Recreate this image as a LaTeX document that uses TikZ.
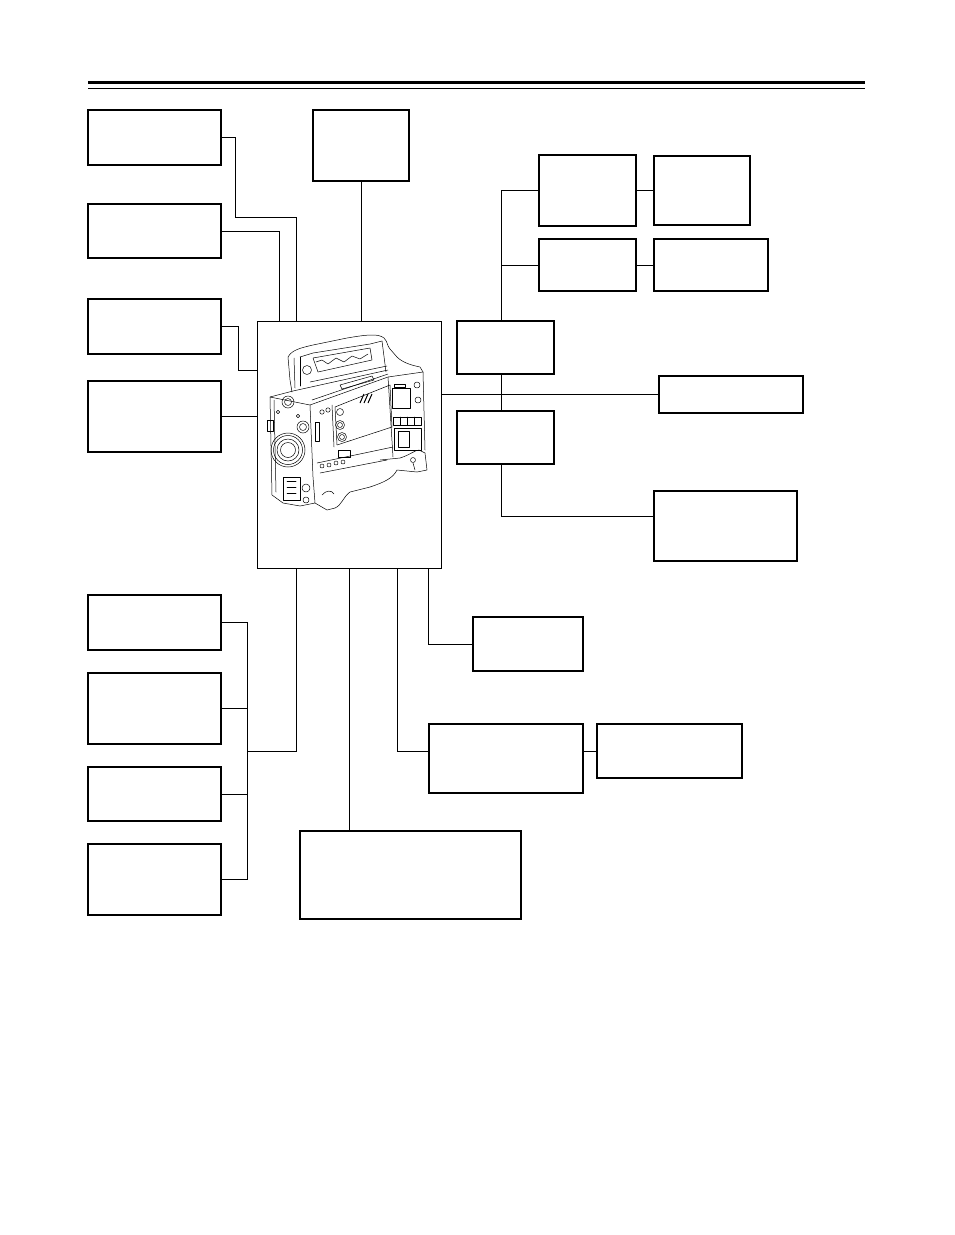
\documentclass[tikz,border=0pt]{standalone}
\begin{document}
\begin{tikzpicture}[x=1pt,y=-1pt,
  box/.style={draw, line width=1.1pt, inner sep=0pt, outer sep=0pt},
  conn/.style={draw, line width=0.8pt},
  cl/.style={draw, line width=0.5pt, line join=round, line cap=round}]
\useasboundingbox (0,0) rectangle (954,1235);
\fill[white] (0,0) rectangle (954,1235);
% header rules
\draw[line width=3pt] (88,82.5) -- (865,82.5);
\draw[line width=1pt] (88,88.5) -- (865,88.5);
% boxes
\node[box, minimum width=133, minimum height=55] (L1) at (154.5,137.5) {};
\node[box, minimum width=133, minimum height=54] (L2) at (154.5,231) {};
\node[box, minimum width=133, minimum height=55] (L3) at (154.5,326.5) {};
\node[box, minimum width=133, minimum height=71] (L4) at (154.5,416.5) {};
\node[box, minimum width=96, minimum height=71] (T) at (361,145.5) {};
\node[box, minimum width=97, minimum height=71] (R1) at (587.5,190.5) {};
\node[box, minimum width=96, minimum height=69] (R1b) at (702,190.5) {};
\node[box, minimum width=97, minimum height=52] (R2) at (587.5,265) {};
\node[box, minimum width=114, minimum height=52] (R2b) at (711,265) {};
\node[box, minimum width=97, minimum height=53] (M1) at (505.5,347.5) {};
\node[box, minimum width=97, minimum height=53] (M2) at (505.5,437.5) {};
\node[box, minimum width=144, minimum height=37] (RR) at (731,394.5) {};
\node[box, minimum width=143, minimum height=70] (RRR) at (725.5,526) {};
\node[box, line width=0.8pt, minimum width=184, minimum height=247] (cam) at (349,444.5) {};
\node[box, minimum width=133, minimum height=55] (L5) at (154.5,622.5) {};
\node[box, minimum width=133, minimum height=71] (L6) at (154.5,708.5) {};
\node[box, minimum width=133, minimum height=54] (L7) at (154.5,794) {};
\node[box, minimum width=133, minimum height=71] (L8) at (154.5,879.5) {};
\node[box, minimum width=110, minimum height=54] (B1) at (528,644) {};
\node[box, minimum width=154, minimum height=69] (B2) at (506,758.5) {};
\node[box, minimum width=145, minimum height=54] (B2b) at (669.5,751) {};
\node[box, minimum width=221, minimum height=88] (B3) at (410.5,875) {};
% connectors, upper left
\coordinate (k1) at (235,217);
\draw[conn] (L1.east) -| (k1) -| ([xshift=39pt]cam.north west);
\draw[conn] (L2.east) -| ([xshift=22pt]cam.north west);
\draw[conn] (T.south) -- (T.south |- cam.north);
\coordinate (k3) at (238,370);
\draw[conn] (L3.east) -| (k3) -- (k3 -| cam.west);
\draw[conn] (L4.east) -- (L4.east -| cam.west);
% right side
\coordinate (sp) at (501,0);
\draw[conn] (R1.west) -| (sp |- M1.north);
\draw[conn] (R2.west) -- (R2.west -| sp);
\draw[conn] (R1.east) -- (R1.east -| R1b.west);
\draw[conn] (R2.east) -- (R2.east -| R2b.west);
\draw[conn] (sp |- M1.south) -- (sp |- M2.north);
\draw[conn] (sp |- M2.south) |- ([yshift=9.5pt]RRR.west);
\draw[conn] (RR.west) -- (RR.west -| cam.east);
% bottom
\coordinate (bus) at (247,0);
\draw[conn] (L5.east) -| (bus |- L8.east) -- (L8.east);
\draw[conn] (L6.east) -- (L6.east -| bus);
\draw[conn] (L7.east) -- (L7.east -| bus);
\coordinate (j1) at (247,751);
\coordinate (c1) at ([xshift=39.5pt]cam.south west);
\draw[conn] (c1) |- (j1);
\coordinate (c2) at ([xshift=92.5pt]cam.south west);
\draw[conn] (c2) -- (c2 |- B3.north);
\coordinate (c3) at ([xshift=140.5pt]cam.south west);
\draw[conn] (c3) |- ([yshift=7.5pt]B2.west);
\draw[conn] ([yshift=7.5pt]B2.east) -- ([yshift=7.5pt]B2.east -| B2b.west);
\coordinate (c4) at ([xshift=171.5pt]cam.south west);
\draw[conn] (c4) |- (B1.west);
% camera sketch
\draw[cl] (288,357) .. controls (292,350) and (300,348) .. (313,345) -- (347,338)
  .. controls (365,335) and (378,333) .. (384,338) .. controls (388,342) and (387,346) .. (390,349)
  -- (397,357) .. controls (402,362) and (410,365) .. (420,367) -- (423,372);
\draw[cl] (300,357) -- (313,353) -- (370,344) -- (382,341);
\draw[cl] (313,358) -- (370,348) -- (372,360) -- (318,372) -- cycle;
\draw[cl] (316,362) -- (322,360) -- (328,364) -- (336,358) -- (344,362) -- (352,356) -- (360,359) -- (368,354);
\draw[cl] (310,382) -- (387,366);
\draw[cl] (288,357) -- (290,380) -- (292,392);
\draw[cl] (300,357) -- (300,386);
\draw[cl] (294,358) -- (295,388);
\draw[cl] (307,370) circle (4.5);
\draw[cl] (382,341) -- (386,372);
% body
\draw[cl] (270,397) -- (310,405) -- (388,377) -- (423,372);
\draw[cl] (270,397) -- (293,391) -- (388,370);
\draw[cl] (312,400) -- (388,374);
\draw[cl] (340,385) -- (372,376) -- (374,380) -- (342,389) -- cycle;
\draw[cl] (270,397) -- (272,495) -- (283,503) -- (300,506) -- (315,503) -- (313,477) -- (310,405);
\draw[cl] (274,400) -- (276,492);
\draw[cl] (288,450) circle (17);
\draw[cl] (288,450) circle (14.5);
\draw[cl] (288,450) circle (11);
\draw[cl] (288,450) circle (7.5);
\draw[cl] (288,402) circle (6);
\draw[cl] (288,402) circle (3.5);
\draw[cl] (303,427) circle (6);
\draw[cl] (303,427) circle (3.5);
\draw[cl] (278,412) circle (1.8);
\draw[cl] (298,416) circle (1.8);
\draw[cl] (267,420) rectangle (273,431);
\draw[cl] (315,422) rectangle (319,441);
\draw[cl] (322,412) circle (2.2);
\draw[cl] (328,410) circle (2.2);
% side panel
\draw[cl] (335,407) -- (390,385) -- (392,427) -- (337,445) -- cycle;
\draw[cl] (332,405) -- (334,447);
\draw[cl] (340,412) circle (3.5);
\draw[cl] (340,425) circle (4.5);
\draw[cl] (340,425) circle (2.5);
\draw[cl] (342,437) circle (4.5);
\draw[cl] (342,437) circle (2.5);
\draw[line width=1pt] (360,403) -- (364,394) (364,403) -- (368,394) (368,403) -- (372,394);
% rear panel
\draw[cl] (388,377) -- (393,457);
\draw[cl] (423,372) -- (425,450);
\draw[cl] (392,388) rectangle (410,408);
\draw[cl] (394,384) rectangle (405,387);
\draw[cl] (417,385) circle (3);
\draw[cl] (418,400) circle (3);
\draw[cl] (393,417) rectangle (421,425);
\draw[cl] (400,417) -- (400,425) (407,417) -- (407,425) (414,417) -- (414,425);
\draw[cl] (394,428) rectangle (421,450);
\draw[cl] (398,431) rectangle (409,447);
% lower side
\draw[cl] (317,463) -- (393,447);
\draw[cl] (320,473) -- (387,460);
\draw[cl] (338,450) rectangle (350,457);
\draw[cl] (322,466) circle (2) (329,465) circle (2) (336,463) circle (2) (343,462) circle (2);
\draw[cl] (283,477) rectangle (300,500);
\draw[cl] (287,481) -- (296,481) (287,487) -- (296,487) (287,493) -- (296,493);
\draw[cl] (306,488) circle (4);
\draw[cl] (306,500) circle (3);
% shoulder pad
\draw[cl] (380,460) -- (400,458) .. controls (410,455) and (415,450) .. (419,450) -- (425,453)
  -- (427,470) -- (417,472) -- (397,470) .. controls (393,478) and (385,482) .. (370,487)
  -- (350,492) .. controls (343,497) and (342,505) .. (335,508) -- (327,510) -- (315,503);
\draw[cl] (413,460) circle (2.5);
\draw[cl] (413,463) -- (415,470);
\draw[cl] (322,495) .. controls (326,490) and (332,490) .. (334,494);
\end{tikzpicture}
\end{document}
